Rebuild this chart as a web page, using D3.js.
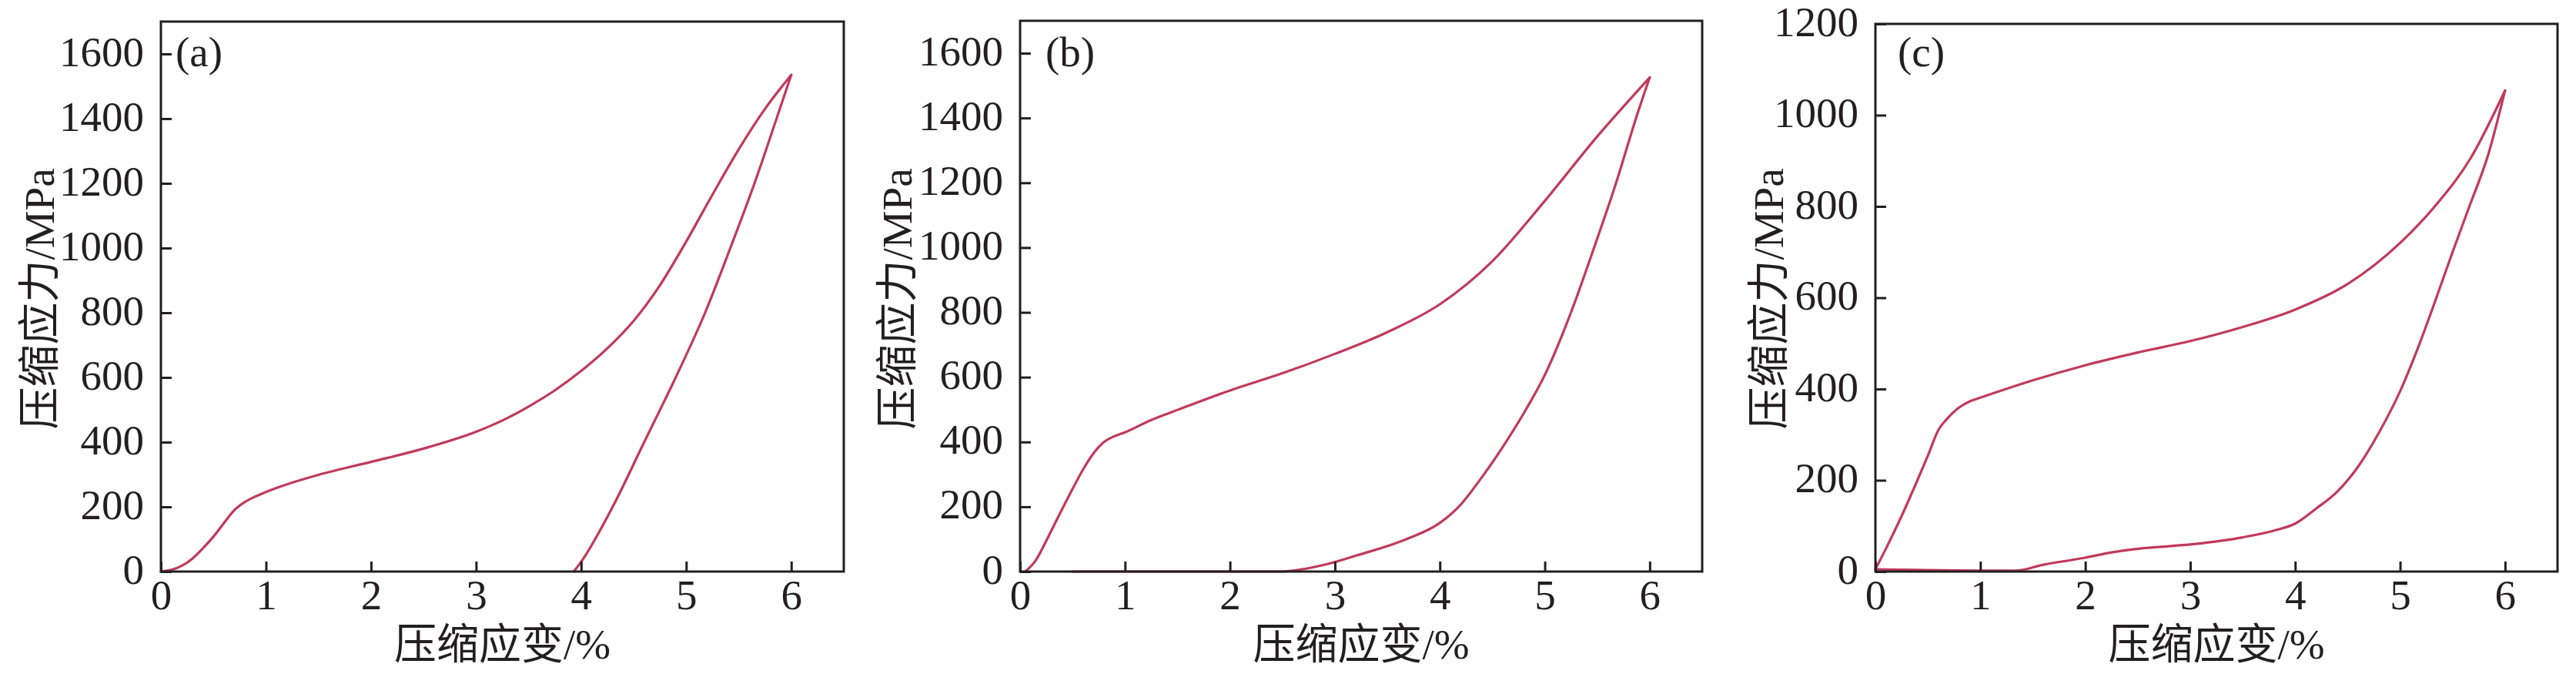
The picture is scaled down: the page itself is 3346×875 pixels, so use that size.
<!DOCTYPE html>
<html><head><meta charset="utf-8">
<script src="https://cdn.jsdelivr.net/npm/d3@7"></script>
<style>body{margin:0;background:#fff}</style>
</head><body><svg id="chart" width="3346" height="875"></svg>
<script>
// ---------- data ----------
const strainTicks = [0, 1, 2, 3, 4, 5, 6];
const stressTicksAB = [0, 200, 400, 600, 800, 1000, 1200, 1400, 1600];
const stressTicksC = [0, 200, 400, 600, 800, 1000, 1200];
const panelTags = ["(a)", "(b)", "(c)"];
const xTitle = "压缩应变/%";
const yTitle = "压缩应力/MPa";

const aLoadStrain = [0, 0.1, 0.2, 0.3, 0.4, 0.5, 0.6, 0.7, 0.8, 0.9, 1.0, 1.25, 1.5, 2.0, 2.5, 3.0, 3.25, 3.5, 3.75, 4.0, 4.25, 4.5, 4.75, 5.0, 5.25, 5.5, 5.75, 6.0];
const aLoadStress = [0, 5, 18, 40, 72, 108, 150, 190, 215, 232, 246, 275, 299, 339, 380, 432, 467, 510, 560, 620, 690, 775, 885, 1020, 1165, 1305, 1430, 1535];
const aUnloadStrain = [3.93, 4.0, 4.3, 4.6, 4.9, 5.18, 5.42, 5.65, 5.86, 6.0];
const aUnloadStress = [0, 30, 200, 400, 600, 800, 1000, 1200, 1400, 1535];

const bLoadStrain = [0.05, 0.15, 0.25, 0.35, 0.5, 0.6, 0.7, 0.8, 0.9, 1.0, 1.25, 1.5, 2.0, 2.5, 3.0, 3.5, 4.0, 4.5, 5.0, 5.5, 6.0];
const bLoadStress = [0, 35, 95, 160, 255, 315, 365, 400, 418, 430, 468, 499, 559, 612, 672, 739, 825, 958, 1144, 1343, 1525];
const bUnloadStrain = [0.5, 1.5, 2.47, 2.95, 3.21, 3.68, 4.0, 4.18, 4.42, 4.63, 4.82, 4.99, 5.25, 5.47, 5.68, 5.87, 6.0];
const bUnloadStress = [0, 0, 0, 25, 50, 100, 150, 200, 300, 400, 500, 600, 800, 1000, 1200, 1400, 1525];

const cLoadStrain = [0, 0.1, 0.25, 0.4, 0.5, 0.6, 0.68, 0.8, 0.9, 1.0, 1.5, 2.0, 2.5, 3.0, 3.5, 4.0, 4.5, 5.0, 5.33, 5.67, 6.0];
const cLoadStress = [5, 50, 122, 200, 254, 310, 334, 360, 373, 381, 419, 452, 480, 505, 536, 574, 630, 720, 800, 905, 1054];
const cUnloadStrain = [0, 0.5, 1.0, 1.33, 1.6, 1.99, 2.25, 2.51, 3.03, 3.5, 3.8, 4.0, 4.2, 4.4, 4.6, 4.8, 5.0, 5.17, 5.33, 5.5, 5.66, 5.84, 6.0];
const cUnloadStress = [5, 3, 2, 2, 15, 30, 42, 50, 60, 75, 90, 105, 138, 175, 230, 305, 395, 490, 590, 700, 800, 914, 1054];

// ---------- layout ----------
const panels = [
  {tag: panelTags[0], left: 209, right: 1096, top: 28, yMax: 1700, yTicks: stressTicksAB, tagDx: 19, yTitleDx: -159,
   load: [aLoadStrain, aLoadStress], unload: [aUnloadStrain, aUnloadStress]},
  {tag: panelTags[1], left: 1325, right: 2211, top: 27, yMax: 1700, yTicks: stressTicksAB, tagDx: 33, yTitleDx: -161,
   load: [bLoadStrain, bLoadStress], unload: [bUnloadStrain, bUnloadStress]},
  {tag: panelTags[2], left: 2436, right: 3322, top: 31, yMax: 1200, yTicks: stressTicksC, tagDx: 29, yTitleDx: -140,
   load: [cLoadStrain, cLoadStress], unload: [cUnloadStrain, cUnloadStress]}
];
const bottom = 742;
const ink = "#231f20";
const curveColor = "#c03a5c";
const numFont = "'Liberation Serif', 'Times New Roman', serif";
const mixFont = "'Liberation Serif', 'Noto Sans CJK SC', serif";
const fs = 55;

const svg = d3.select("#chart");
svg.append("rect").attr("width", 3346).attr("height", 875).attr("fill", "#fff");

panels.forEach(p => {
  const x = d3.scaleLinear().domain([0, 6.5]).range([p.left, p.right]);
  const y = d3.scaleLinear().domain([0, p.yMax]).range([bottom, p.top]);
  const g = svg.append("g");

  // curves
  const line = d3.line().x(d => x(d[0])).y(d => y(d[1])).curve(d3.curveMonotoneX);
  [p.load, p.unload].forEach(arr => {
    const pts = arr[0].map((v, i) => [v, arr[1][i]]);
    g.append("path").datum(pts).attr("d", line)
      .attr("fill", "none").attr("stroke", curveColor).attr("stroke-width", 3.2)
      .attr("stroke-linejoin", "round").attr("stroke-linecap", "round");
  });

  // x axis
  const xa = g.append("g").attr("transform", `translate(0,${bottom})`)
    .call(d3.axisBottom(x).tickValues(strainTicks).tickSize(-13).tickFormat(d3.format("d")));
  xa.select(".domain").remove();
  xa.selectAll(".tick line").attr("stroke", ink).attr("stroke-width", 3);
  xa.selectAll(".tick text").attr("y", 49).attr("dy", null)
    .attr("font-family", numFont).attr("font-size", fs).attr("fill", ink);

  // y axis
  const ya = g.append("g").attr("transform", `translate(${p.left},0)`)
    .call(d3.axisLeft(y).tickValues(p.yTicks).tickSize(-14).tickFormat(d3.format("d")));
  ya.select(".domain").remove();
  ya.selectAll(".tick line").attr("stroke", ink).attr("stroke-width", 3);
  ya.selectAll(".tick text").attr("x", -22).attr("dy", null).attr("y", 15)
    .attr("font-family", numFont).attr("font-size", fs).attr("fill", ink);

  // frame
  g.append("rect").attr("x", p.left).attr("y", p.top)
    .attr("width", p.right - p.left).attr("height", bottom - p.top)
    .attr("fill", "none").attr("stroke", ink).attr("stroke-width", 3);

  // panel tag
  g.append("text").attr("x", p.left + p.tagDx).attr("y", 86)
    .attr("font-family", numFont).attr("font-size", fs).attr("fill", ink).text(p.tag);

  // axis titles
  g.append("text").attr("x", (p.left + p.right) / 2).attr("y", 855)
    .attr("text-anchor", "middle").attr("font-family", mixFont).attr("font-size", fs)
    .attr("fill", ink).text(xTitle);
  g.append("text").attr("transform", `translate(${p.left + p.yTitleDx + 20},388) rotate(-90)`)
    .attr("text-anchor", "middle").attr("font-family", mixFont).attr("font-size", fs)
    .attr("fill", ink).text(yTitle);
});
</script></body></html>
